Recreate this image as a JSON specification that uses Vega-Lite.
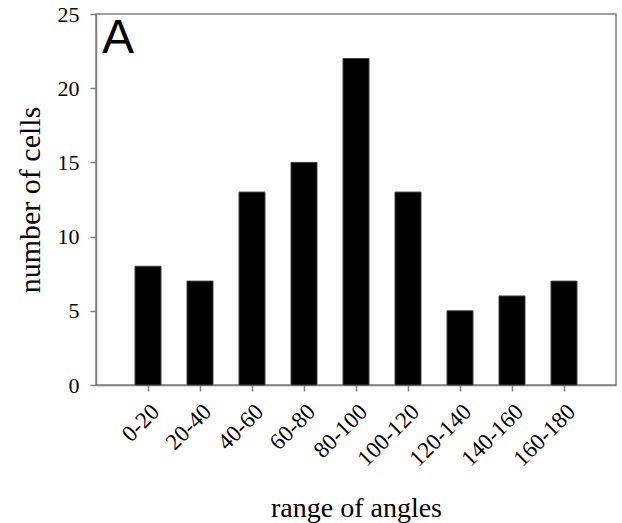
{
  "$schema": "https://vega.github.io/schema/vega-lite/v6.json",
  "autosize": "none",
  "width": 520,
  "height": 371,
  "padding": {"left": 96, "top": 14, "right": 6, "bottom": 138},
  "background": "white",
  "title": {
    "text": "A",
    "anchor": "start",
    "frame": "group",
    "orient": "top",
    "font": "Liberation Sans",
    "fontSize": 48,
    "fontWeight": "normal",
    "color": "black",
    "baseline": "top",
    "offset": -60,
    "dx": 6
  },
  "config": {
    "view": {"stroke": "#808080", "strokeWidth": 1.5},
    "axis": {
      "domainColor": "#808080",
      "domainWidth": 1.5,
      "tickColor": "#808080",
      "tickWidth": 1.5,
      "tickSize": 6,
      "grid": false,
      "labelFont": "Liberation Serif",
      "labelColor": "black",
      "titleFont": "Liberation Serif",
      "titleColor": "black",
      "titleFontWeight": "normal"
    }
  },
  "data": {
    "values": [
      {"range": "0-20", "cells": 8},
      {"range": "20-40", "cells": 7},
      {"range": "40-60", "cells": 13},
      {"range": "60-80", "cells": 15},
      {"range": "80-100", "cells": 22},
      {"range": "100-120", "cells": 13},
      {"range": "120-140", "cells": 5},
      {"range": "140-160", "cells": 6},
      {"range": "160-180", "cells": 7}
    ]
  },
  "mark": {"type": "bar", "color": "black", "stroke": "#404040", "strokeWidth": 1},
  "encoding": {
    "x": {
      "field": "range",
      "type": "nominal",
      "sort": null,
      "scale": {"paddingInner": 0.5, "paddingOuter": 0.75},
      "axis": {
        "title": "range of angles",
        "labelAngle": -45,
        "labelFontSize": 23,
        "labelPadding": 9,
        "titleFontSize": 28,
        "titlePadding": 24
      }
    },
    "y": {
      "field": "cells",
      "type": "quantitative",
      "scale": {"domain": [0, 25]},
      "axis": {
        "title": "number of cells",
        "values": [0, 5, 10, 15, 20, 25],
        "labelFontSize": 22,
        "labelPadding": 11,
        "titleFontSize": 30,
        "titlePadding": 12
      }
    }
  }
}
